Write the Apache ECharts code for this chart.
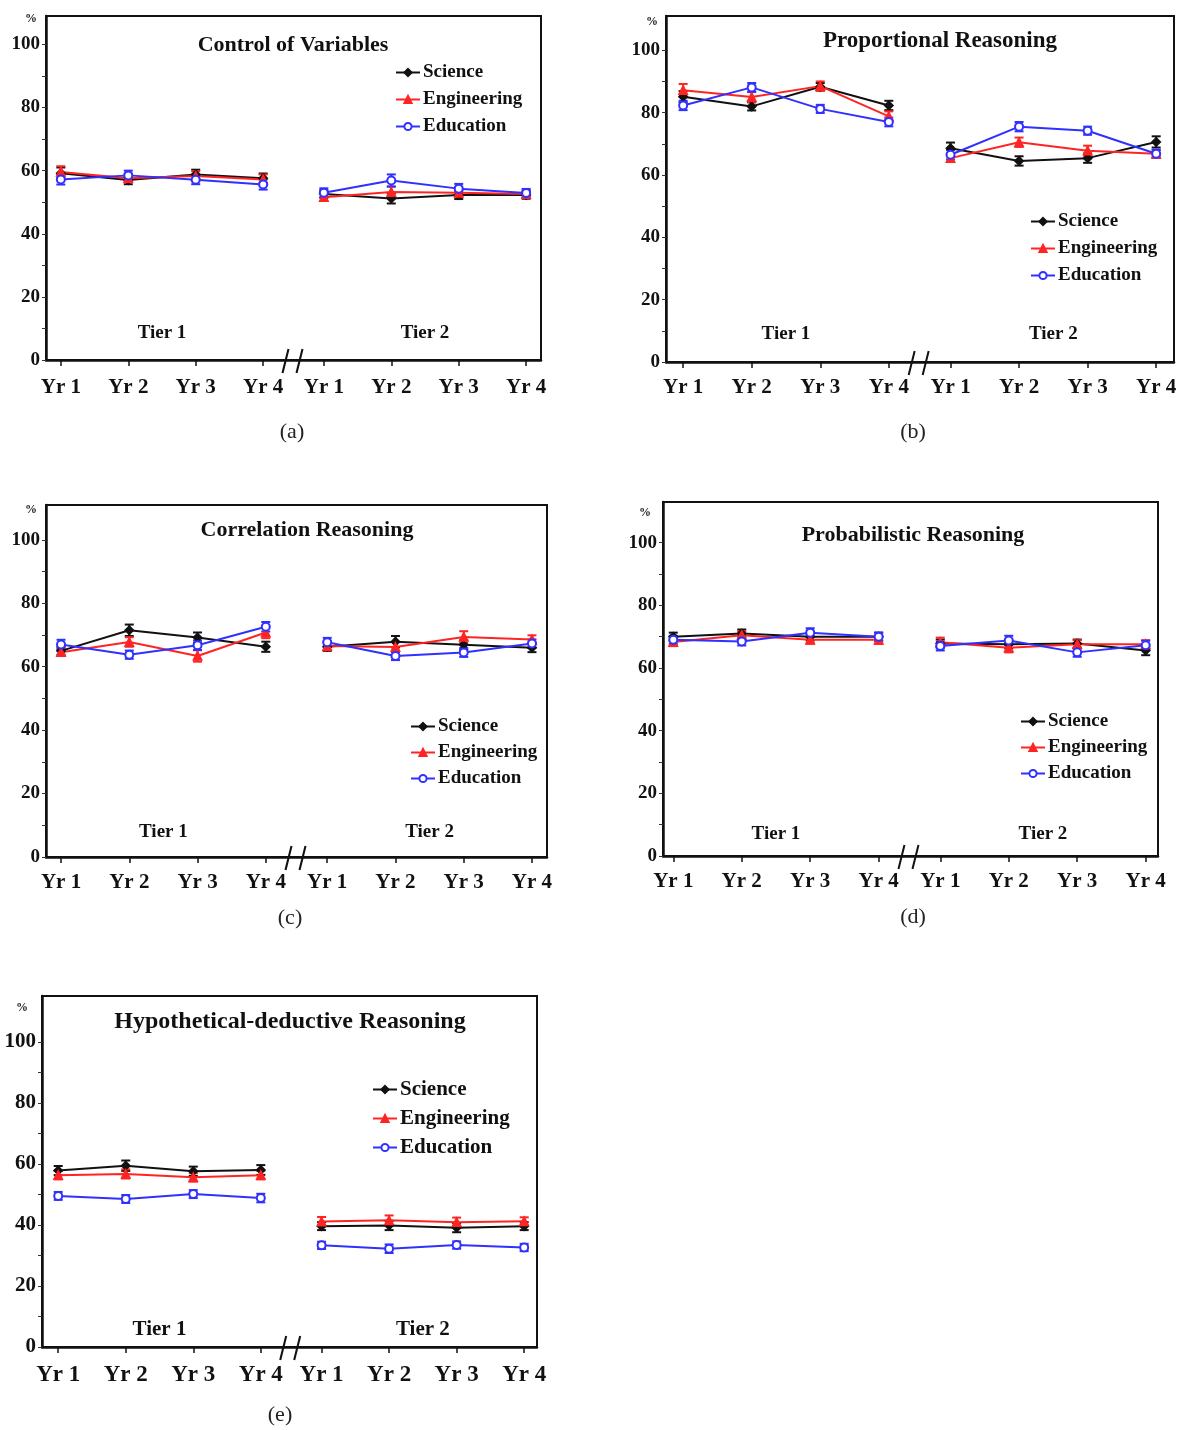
<!DOCTYPE html>
<html><head><meta charset="utf-8">
<script src="https://cdn.jsdelivr.net/npm/echarts@6/dist/echarts.min.js"></script>
<style>html,body{margin:0;padding:0;background:#fff}#c{width:1180px;height:1430px}</style>
</head><body><div id="c"></div>
<script>
// ---------- categories / labels ----------
const yearLabels = ['Yr 1','Yr 2','Yr 3','Yr 4','Yr 1','Yr 2','Yr 3','Yr 4'];
const yearPos = [0,1,2,3,3.9,4.9,5.9,6.9];
const groupNames = ['Science','Engineering','Education'];
const tierNames = ['Tier 1','Tier 2'];
const yTickLabels = [0,20,40,60,80,100];
const yMinorTicks = [0,10,20,30,40,50,60,70,80,90,100];
const panelTitles = ['Control of Variables','Proportional Reasoning','Correlation Reasoning','Probabilistic Reasoning','Hypothetical-deductive Reasoning'];
const panelCaptions = ['(a)','(b)','(c)','(d)','(e)'];

// ---------- (a) Control of Variables ----------
const cvSci = [59.2,57.0,58.8,57.6, 52.6,51.2,52.3,52.3];
const cvEng = [59.6,57.6,58.3,57.2, 51.6,53.2,53.0,52.6];
const cvEdu = [57.2,58.5,57.1,55.6, 53.0,56.9,54.3,52.9];
const cvSciErr = [1.8,1.3,1.5,1.5, 1.2,1.6,1.3,1.2];
const cvEngErr = [1.8,1.4,1.5,1.6, 1.2,1.7,1.3,1.2];
const cvEduErr = [1.6,1.5,1.4,1.6, 1.4,1.9,1.5,1.3];

// ---------- (b) Proportional Reasoning ----------
const prSci = [85.1,82.0,88.3,82.3, 68.6,64.5,65.4,70.6];
const prEng = [87.2,85.0,88.5,78.8, 65.4,70.5,67.8,66.8];
const prEdu = [82.3,88.1,81.2,77.0, 66.5,75.5,74.2,66.8];
const prSciErr = [1.8,1.3,1.2,1.5, 1.8,1.5,1.5,1.8];
const prEngErr = [2.0,1.6,1.5,1.6, 1.2,1.5,1.6,1.2];
const prEduErr = [1.5,1.4,1.3,1.4, 1.5,1.5,1.3,1.3];

// ---------- (c) Correlation Reasoning ----------
const crSci = [65.0,71.5,69.2,66.3, 66.3,67.9,66.9,66.0];
const crEng = [64.6,67.8,63.4,70.8, 66.5,66.2,69.4,68.6];
const crEdu = [67.0,63.8,66.8,72.6, 67.7,63.4,64.5,67.3];
const crSciErr = [1.2,1.8,1.6,1.6, 1.3,1.8,1.5,1.4];
const crEngErr = [1.2,1.5,1.8,1.8, 1.3,1.6,1.8,1.3];
const crEduErr = [1.5,1.3,1.5,1.5, 1.4,1.3,1.4,1.3];

// ---------- (d) Probabilistic Reasoning ----------
const pbSci = [70.0,71.0,70.0,70.0, 67.8,67.6,67.8,65.6];
const pbEng = [68.3,70.5,69.0,69.0, 68.2,66.5,67.6,67.6];
const pbEdu = [69.0,68.5,71.3,70.0, 67.0,68.8,65.0,67.3];
const pbSciErr = [1.3,1.3,1.2,1.3, 1.3,1.3,1.3,1.5];
const pbEngErr = [1.3,1.3,1.2,1.3, 1.5,1.5,1.3,1.3];
const pbEduErr = [1.3,1.3,1.4,1.3, 1.4,1.5,1.4,1.4];

// ---------- (e) Hypothetical-deductive Reasoning ----------
const hdSci = [57.8,59.4,57.6,58.0, 39.6,39.8,39.1,39.6];
const hdEng = [56.3,56.7,55.6,56.3, 41.1,41.5,40.9,41.2];
const hdEdu = [49.5,48.5,50.1,48.8, 33.3,32.2,33.4,32.6];
const hdSciErr = [1.5,1.7,1.5,1.6, 1.3,1.5,1.5,1.3];
const hdEngErr = [1.4,1.5,1.4,1.4, 1.5,1.6,1.5,1.3];
const hdEduErr = [1.3,1.3,1.3,1.4, 1.2,1.4,1.2,1.2];

const panelValues = [
  [cvSci,cvEng,cvEdu],[prSci,prEng,prEdu],[crSci,crEng,crEdu],[pbSci,pbEng,pbEdu],[hdSci,hdEng,hdEdu]
];
const panelErrors = [
  [cvSciErr,cvEngErr,cvEduErr],[prSciErr,prEngErr,prEduErr],[crSciErr,crEngErr,crEduErr],
  [pbSciErr,pbEngErr,pbEduErr],[hdSciErr,hdEngErr,hdEduErr]
];

// ---------- layout / style ----------
const layouts = [
  {left:46, top:16, width:495, height:344, xMin:-0.22, xMax:7.12, yMax:109,
   title:[293,45,22], legend:[395,63,19,8], pct:[31,19], cap:[292,432], tierY:8.5, xFont:21, yFont:19, tierFont:19, xMargin:17},
  {left:666, top:16, width:508, height:346, xMin:-0.25, xMax:7.16, yMax:111,
   title:[940,41,23], legend:[1030,212,19,8], pct:[652,22], cap:[913,432], tierY:9, xFont:21, yFont:19, tierFont:19, xMargin:15},
  {left:46, top:505, width:501, height:352, xMin:-0.22, xMax:7.12, yMax:111,
   title:[307,530,22], legend:[410,717,19,7], pct:[31,510], cap:[290,918], tierY:7.8, xFont:21, yFont:19, tierFont:19, xMargin:15},
  {left:663, top:502, width:495, height:354, xMin:-0.15, xMax:7.08, yMax:113,
   title:[913,535,22], legend:[1020,712,19,7], pct:[645,513], cap:[913,917], tierY:7, xFont:21, yFont:19, tierFont:19, xMargin:15},
  {left:42, top:996, width:495, height:351, xMin:-0.24, xMax:7.09, yMax:115,
   title:[290,1022,24], legend:[372,1079,21,8], pct:[22,1008], cap:[280,1415], tierY:5.6, xFont:23, yFont:21, tierFont:21, xMargin:17}
];
const colors = ['#111111','#ff2424','#3030ff'];
const symbols = ['diamond','triangle','emptyCircle'];
const symbolSizes = [8,8,8];
const SERIF = '"Liberation Serif","Times New Roman",serif';
const tierX = [1.5,5.4];
const breakX = 3.45;

function labelFor(v){
  for (let i=0;i<yearPos.length;i++) if (Math.abs(yearPos[i]-v)<1e-6) return yearLabels[i];
  return '';
}
function lineData(vals){
  const out = [];
  vals.forEach((v,i)=>{
    if (i===4) out.push([breakX,'-']);
    out.push([yearPos[i], v]);
  });
  return out;
}
function errRender(color){
  return function(params, api){
    const x = api.value(0), y = api.value(1), e = api.value(2);
    const t = api.coord([x, y+e]), b = api.coord([x, y-e]);
    const w = 4.5, st = {stroke:color, lineWidth:2};
    return {type:'group', children:[
      {type:'line', shape:{x1:t[0],y1:t[1],x2:b[0],y2:b[1]}, style:st},
      {type:'line', shape:{x1:t[0]-w,y1:t[1],x2:t[0]+w,y2:t[1]}, style:st},
      {type:'line', shape:{x1:b[0]-w,y1:b[1],x2:b[0]+w,y2:b[1]}, style:st}
    ]};
  };
}

const grid=[], xAxis=[], yAxis=[], legend=[], series=[], errSeries=[], graphic=[];
layouts.forEach((L,p)=>{
  grid.push({left:L.left, top:L.top, width:L.width, height:L.height, show:true,
    borderColor:'#111', borderWidth:2, backgroundColor:'transparent', containLabel:false});
  xAxis.push({gridIndex:p, type:'value', min:L.xMin, max:L.xMax,
    axisLine:{onZero:false, lineStyle:{color:'#111', width:2.5}},
    axisTick:{show:true, customValues:yearPos, length:6, lineStyle:{color:'#111', width:1.5}},
    axisLabel:{customValues:yearPos, formatter:labelFor, color:'#111', fontFamily:SERIF,
      fontWeight:'bold', fontSize:L.xFont, margin:L.xMargin},
    splitLine:{show:false}});
  yAxis.push({gridIndex:p, type:'value', min:0, max:L.yMax,
    axisLine:{show:true, onZero:false, lineStyle:{color:'#111', width:2.5}},
    axisTick:{show:true, customValues:yMinorTicks, length:4, lineStyle:{color:'#333', width:1}},
    axisLabel:{customValues:yTickLabels, color:'#111', fontFamily:SERIF, fontWeight:'bold',
      fontSize:L.yFont, margin:6},
    splitLine:{show:false}});
  legend.push({data:groupNames, orient:'vertical', left:L.legend[0], top:L.legend[1],
    itemWidth:24, itemHeight:9, itemGap:L.legend[3], padding:0, selectedMode:false,
    textStyle:{fontFamily:SERIF, fontWeight:'bold', fontSize:L.legend[2], color:'#111', padding:[0,0,0,-2]}});

  groupNames.forEach((g,k)=>{
    errSeries.push({type:'custom', name:g+' error', xAxisIndex:p, yAxisIndex:p,
      renderItem:errRender(colors[k]), encode:{x:0,y:1}, z:2, silent:true,
      data:panelValues[p][k].map((v,i)=>[yearPos[i], v, panelErrors[p][k][i]])});
    series.push({type:'line', name:g, xAxisIndex:p, yAxisIndex:p, data:lineData(panelValues[p][k]),
      connectNulls:false, symbol:symbols[k], symbolSize:symbolSizes[k], showAllSymbol:true,
      lineStyle:{color:colors[k], width:2}, itemStyle:{color:colors[k], borderColor:colors[k], borderWidth:1.8},
      z:3, silent:true, animation:false});
  });

  // tier labels placed on the axes' scale
  series.push({type:'custom', name:'tiers'+p, xAxisIndex:p, yAxisIndex:p, silent:true, z:4,
    encode:{x:0,y:1},
    data:tierNames.map((t,i)=>[tierX[i], L.tierY, i]),
    renderItem:function(params, api){
      const c = api.coord([api.value(0), api.value(1)]);
      return {type:'text', x:c[0], y:c[1], style:{text:tierNames[api.value(2)], fill:'#111',
        font:'bold '+L.tierFont+'px '+SERIF, align:'center', verticalAlign:'middle'}};
    }});
  // axis-break marks "//"
  series.push({type:'custom', name:'break'+p, xAxisIndex:p, yAxisIndex:p, silent:true, z:5, clip:false,
    encode:{x:0,y:1}, data:[[breakX, 0]],
    renderItem:function(params, api){
      const c = api.coord([api.value(0), api.value(1)]);
      const st = {stroke:'#111', lineWidth:2};
      return {type:'group', children:[
        {type:'line', shape:{x1:c[0]-11,y1:c[1]+13,x2:c[0]-5,y2:c[1]-11}, style:st},
        {type:'line', shape:{x1:c[0]+3,y1:c[1]+13,x2:c[0]+9,y2:c[1]-11}, style:st}
      ]};
    }});

  graphic.push({type:'text', x:L.title[0], y:L.title[1], z:10, style:{text:panelTitles[p], fill:'#111',
    font:'bold '+L.title[2]+'px '+SERIF, align:'center', verticalAlign:'middle'}});
  graphic.push({type:'text', x:L.pct[0], y:L.pct[1], z:10, style:{text:'%', fill:'#222',
    font:'bold 12px '+SERIF, align:'center', verticalAlign:'middle'}});
  graphic.push({type:'text', x:L.cap[0], y:L.cap[1], z:10, style:{text:panelCaptions[p], fill:'#222',
    font:'22px '+SERIF, align:'center', verticalAlign:'middle'}});
});

const chart = echarts.init(document.getElementById('c'), null, {renderer:'canvas'});
chart.setOption({
  animation:false,
  backgroundColor:'#fff',
  grid, xAxis, yAxis, legend,
  series: series.filter(s=>s.type==='line').concat(errSeries, series.filter(s=>s.type!=='line')),
  graphic
});
</script></body></html>
